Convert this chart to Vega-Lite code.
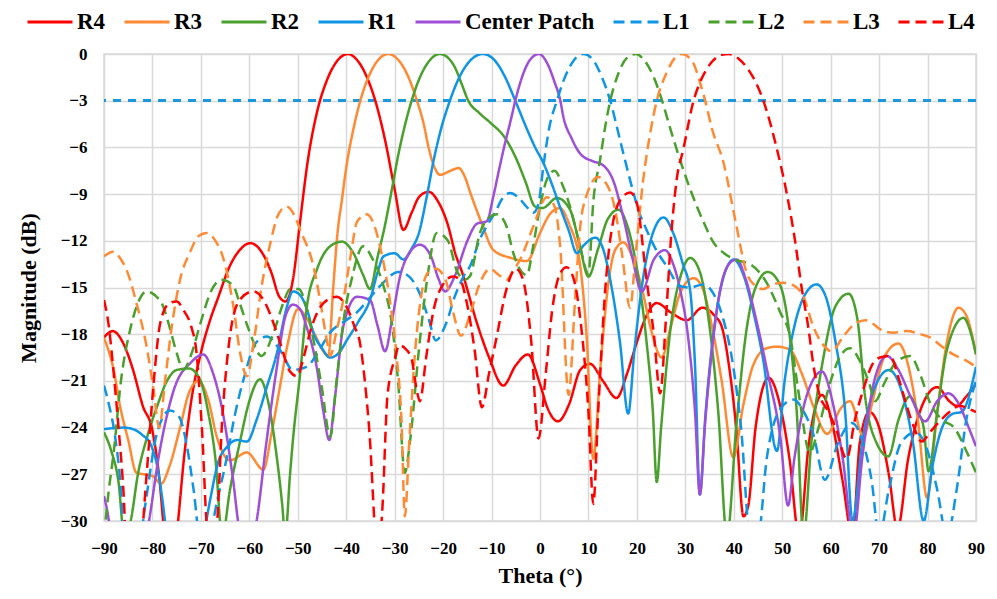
{
"$schema": "https://vega.github.io/schema/vega-lite/v6.json",
"width": 872, "height": 467,
"autosize": {"type": "none"},
"padding": {"left": 104, "top": 54, "right": 21, "bottom": 78},
"background": "white",
"config": {"view": {"stroke": "#d9d9d9", "strokeWidth": 1.5}, "font": "Liberation Serif"},
"data": {"values": [
{"s":"R4","t":-90,"m":-18.2},{"s":"R4","t":-88.2,"m":-17.8},{"s":"R4","t":-86,"m":-18.6},{"s":"R4","t":-84,"m":-20.3},{"s":"R4","t":-82,"m":-22.6},{"s":"R4","t":-80,"m":-24.2},{"s":"R4","t":-78.5,"m":-27.5},{"s":"R4","t":-77.5,"m":-31},{"s":"R4","t":-76,"m":-34},{"s":"R4","t":-74.7,"m":-30},{"s":"R4","t":-73.5,"m":-26},{"s":"R4","t":-72,"m":-22.3},{"s":"R4","t":-70,"m":-19.2},{"s":"R4","t":-68,"m":-17},{"s":"R4","t":-66.5,"m":-15.7},{"s":"R4","t":-64,"m":-13.6},{"s":"R4","t":-62,"m":-12.6},{"s":"R4","t":-59.8,"m":-12.15},{"s":"R4","t":-57.5,"m":-12.7},{"s":"R4","t":-55.5,"m":-14},{"s":"R4","t":-53.8,"m":-15.6},{"s":"R4","t":-52.5,"m":-15.9},{"s":"R4","t":-51,"m":-14.5},{"s":"R4","t":-49.5,"m":-10.7},{"s":"R4","t":-48,"m":-7.0},{"s":"R4","t":-46,"m":-3.7},{"s":"R4","t":-44,"m":-1.7},{"s":"R4","t":-42,"m":-0.5},{"s":"R4","t":-39.7,"m":0},{"s":"R4","t":-38,"m":-0.3},{"s":"R4","t":-36,"m":-1.3},{"s":"R4","t":-34,"m":-3.0},{"s":"R4","t":-32,"m":-5.5},{"s":"R4","t":-30,"m":-8.7},{"s":"R4","t":-28.2,"m":-11.3},{"s":"R4","t":-26.5,"m":-10.2},{"s":"R4","t":-25,"m":-9.2},{"s":"R4","t":-23,"m":-8.85},{"s":"R4","t":-21,"m":-9.5},{"s":"R4","t":-19,"m":-11},{"s":"R4","t":-17.5,"m":-12.8},{"s":"R4","t":-16,"m":-14.1},{"s":"R4","t":-13,"m":-17.3},{"s":"R4","t":-10.5,"m":-19.5},{"s":"R4","t":-7.6,"m":-21.3},{"s":"R4","t":-5,"m":-20},{"s":"R4","t":-2.5,"m":-19.3},{"s":"R4","t":0,"m":-21.2},{"s":"R4","t":1.5,"m":-22.7},{"s":"R4","t":3.7,"m":-23.6},{"s":"R4","t":6,"m":-22.5},{"s":"R4","t":8.3,"m":-20.3},{"s":"R4","t":10.3,"m":-19.9},{"s":"R4","t":13,"m":-21},{"s":"R4","t":15.8,"m":-22.1},{"s":"R4","t":18,"m":-20.5},{"s":"R4","t":20,"m":-18.5},{"s":"R4","t":22,"m":-16.8},{"s":"R4","t":24.1,"m":-16.0},{"s":"R4","t":27,"m":-16.6},{"s":"R4","t":30.3,"m":-17.1},{"s":"R4","t":33.5,"m":-16.3},{"s":"R4","t":36,"m":-16.8},{"s":"R4","t":37.5,"m":-17.5},{"s":"R4","t":39,"m":-20},{"s":"R4","t":40.5,"m":-24},{"s":"R4","t":42,"m":-29.7},{"s":"R4","t":43,"m":-29},{"s":"R4","t":44.5,"m":-24},{"s":"R4","t":47.2,"m":-20.8},{"s":"R4","t":49.5,"m":-22.5},{"s":"R4","t":51.5,"m":-26},{"s":"R4","t":53.5,"m":-31},{"s":"R4","t":55.5,"m":-25},{"s":"R4","t":58.2,"m":-21.9},{"s":"R4","t":60.5,"m":-24},{"s":"R4","t":62.5,"m":-27.5},{"s":"R4","t":64.5,"m":-31},{"s":"R4","t":66,"m":-25},{"s":"R4","t":68,"m":-23},{"s":"R4","t":70,"m":-24},{"s":"R4","t":72,"m":-27},{"s":"R4","t":73.8,"m":-30.5},{"s":"R4","t":76,"m":-26},{"s":"R4","t":79,"m":-22.5},{"s":"R4","t":82,"m":-21.4},{"s":"R4","t":84.5,"m":-22.3},{"s":"R4","t":86,"m":-22.6},{"s":"R4","t":88,"m":-22},{"s":"R4","t":90,"m":-21.2},
{"s":"R3","t":-90,"m":-18.25},{"s":"R3","t":-88,"m":-20.3},{"s":"R3","t":-86.7,"m":-22.6},{"s":"R3","t":-85,"m":-24.8},{"s":"R3","t":-83.3,"m":-26.9},{"s":"R3","t":-80,"m":-27.1},{"s":"R3","t":-78.2,"m":-27.6},{"s":"R3","t":-76.5,"m":-26.5},{"s":"R3","t":-74.3,"m":-24},{"s":"R3","t":-72.5,"m":-21.8},{"s":"R3","t":-70.5,"m":-21.0},{"s":"R3","t":-68.5,"m":-22.2},{"s":"R3","t":-66.7,"m":-24.6},{"s":"R3","t":-64,"m":-26.1},{"s":"R3","t":-60.5,"m":-25.6},{"s":"R3","t":-57.1,"m":-26.7},{"s":"R3","t":-55.5,"m":-24.5},{"s":"R3","t":-53.7,"m":-21.4},{"s":"R3","t":-52,"m":-18.5},{"s":"R3","t":-50,"m":-16.4},{"s":"R3","t":-48.5,"m":-16.8},{"s":"R3","t":-46.5,"m":-18},{"s":"R3","t":-44.5,"m":-19.2},{"s":"R3","t":-43.7,"m":-19.4},{"s":"R3","t":-42.7,"m":-15.1},{"s":"R3","t":-41.8,"m":-11.5},{"s":"R3","t":-40.9,"m":-9.4},{"s":"R3","t":-40,"m":-7.3},{"s":"R3","t":-38.5,"m":-4.8},{"s":"R3","t":-37,"m":-2.9},{"s":"R3","t":-35,"m":-1.2},{"s":"R3","t":-33,"m":-0.25},{"s":"R3","t":-31.3,"m":0},{"s":"R3","t":-29.5,"m":-0.3},{"s":"R3","t":-28,"m":-0.95},{"s":"R3","t":-26.5,"m":-2.0},{"s":"R3","t":-25.4,"m":-3},{"s":"R3","t":-24,"m":-4.5},{"s":"R3","t":-23,"m":-6},{"s":"R3","t":-22,"m":-7.1},{"s":"R3","t":-20.6,"m":-7.76},{"s":"R3","t":-18.5,"m":-7.5},{"s":"R3","t":-16.8,"m":-7.33},{"s":"R3","t":-15.5,"m":-7.9},{"s":"R3","t":-14.4,"m":-8.9},{"s":"R3","t":-12,"m":-10.9},{"s":"R3","t":-9.6,"m":-12.6},{"s":"R3","t":-6,"m":-13.1},{"s":"R3","t":-2.7,"m":-13.3},{"s":"R3","t":0,"m":-11.5},{"s":"R3","t":2,"m":-10.3},{"s":"R3","t":4.1,"m":-9.9},{"s":"R3","t":6,"m":-10.9},{"s":"R3","t":8.3,"m":-13.6},{"s":"R3","t":9.6,"m":-18},{"s":"R3","t":11,"m":-26},{"s":"R3","t":12.5,"m":-20},{"s":"R3","t":14,"m":-15},{"s":"R3","t":15.5,"m":-12.6},{"s":"R3","t":17.2,"m":-12.1},{"s":"R3","t":19,"m":-13},{"s":"R3","t":21,"m":-15},{"s":"R3","t":23,"m":-17.8},{"s":"R3","t":25.1,"m":-19.5},{"s":"R3","t":27,"m":-17.5},{"s":"R3","t":29,"m":-15.3},{"s":"R3","t":31.7,"m":-14.4},{"s":"R3","t":33.5,"m":-15},{"s":"R3","t":35.5,"m":-17.5},{"s":"R3","t":37.5,"m":-21},{"s":"R3","t":39.9,"m":-25.9},{"s":"R3","t":42,"m":-22.5},{"s":"R3","t":44,"m":-20},{"s":"R3","t":46.8,"m":-18.9},{"s":"R3","t":49,"m":-18.8},{"s":"R3","t":51.6,"m":-19.0},{"s":"R3","t":54,"m":-20.5},{"s":"R3","t":56.4,"m":-22.6},{"s":"R3","t":59.3,"m":-24.4},{"s":"R3","t":62,"m":-22.8},{"s":"R3","t":64,"m":-22.3},{"s":"R3","t":66.8,"m":-24.6},{"s":"R3","t":68.5,"m":-22.5},{"s":"R3","t":71,"m":-19.5},{"s":"R3","t":74,"m":-18.6},{"s":"R3","t":76,"m":-20},{"s":"R3","t":78,"m":-23.5},{"s":"R3","t":79.9,"m":-28.5},{"s":"R3","t":82,"m":-23},{"s":"R3","t":84,"m":-18.5},{"s":"R3","t":86.4,"m":-16.3},{"s":"R3","t":88,"m":-16.8},{"s":"R3","t":90,"m":-19.3},
{"s":"R2","t":-90,"m":-24.3},{"s":"R2","t":-88.5,"m":-25.5},{"s":"R2","t":-87,"m":-27.5},{"s":"R2","t":-85.8,"m":-31},{"s":"R2","t":-84.5,"m":-30},{"s":"R2","t":-83,"m":-27},{"s":"R2","t":-81,"m":-24.5},{"s":"R2","t":-79,"m":-22.6},{"s":"R2","t":-77,"m":-21},{"s":"R2","t":-75,"m":-20.3},{"s":"R2","t":-72.5,"m":-20.2},{"s":"R2","t":-70.2,"m":-20.9},{"s":"R2","t":-68.5,"m":-23},{"s":"R2","t":-67,"m":-26},{"s":"R2","t":-65.6,"m":-31},{"s":"R2","t":-64,"m":-28},{"s":"R2","t":-62,"m":-25},{"s":"R2","t":-60,"m":-22.3},{"s":"R2","t":-57.8,"m":-20.9},{"s":"R2","t":-56,"m":-22.5},{"s":"R2","t":-54.5,"m":-25.5},{"s":"R2","t":-53.2,"m":-29},{"s":"R2","t":-52.6,"m":-31},{"s":"R2","t":-51.6,"m":-27},{"s":"R2","t":-51,"m":-24.8},{"s":"R2","t":-49.5,"m":-20.5},{"s":"R2","t":-48.2,"m":-16.4},{"s":"R2","t":-46,"m":-13.8},{"s":"R2","t":-43.5,"m":-12.4},{"s":"R2","t":-40.9,"m":-12.05},{"s":"R2","t":-38.5,"m":-12.8},{"s":"R2","t":-36.5,"m":-14.2},{"s":"R2","t":-35.1,"m":-15.1},{"s":"R2","t":-33.5,"m":-13},{"s":"R2","t":-32,"m":-11},{"s":"R2","t":-31,"m":-9.4},{"s":"R2","t":-29,"m":-6.1},{"s":"R2","t":-26.5,"m":-3},{"s":"R2","t":-24.5,"m":-1.3},{"s":"R2","t":-23,"m":-0.5},{"s":"R2","t":-20.7,"m":0},{"s":"R2","t":-19,"m":-0.24},{"s":"R2","t":-17.5,"m":-0.9},{"s":"R2","t":-16.2,"m":-1.9},{"s":"R2","t":-14.8,"m":-3},{"s":"R2","t":-12.5,"m":-3.8},{"s":"R2","t":-10.3,"m":-4.4},{"s":"R2","t":-7.2,"m":-5.4},{"s":"R2","t":-4.8,"m":-6.8},{"s":"R2","t":-3,"m":-8.2},{"s":"R2","t":-1,"m":-9.8},{"s":"R2","t":0.5,"m":-9.9},{"s":"R2","t":3.5,"m":-9.25},{"s":"R2","t":6.2,"m":-10},{"s":"R2","t":8,"m":-12},{"s":"R2","t":10,"m":-14.3},{"s":"R2","t":12,"m":-12.5},{"s":"R2","t":14,"m":-10.6},{"s":"R2","t":16.2,"m":-10.0},{"s":"R2","t":18,"m":-11},{"s":"R2","t":20,"m":-13.8},{"s":"R2","t":22,"m":-18.5},{"s":"R2","t":23.3,"m":-23},{"s":"R2","t":24.1,"m":-27.5},{"s":"R2","t":25,"m":-24},{"s":"R2","t":27,"m":-17.5},{"s":"R2","t":29,"m":-14.3},{"s":"R2","t":31,"m":-13.1},{"s":"R2","t":33,"m":-14},{"s":"R2","t":35,"m":-17.5},{"s":"R2","t":36.8,"m":-23},{"s":"R2","t":38.6,"m":-31},{"s":"R2","t":40.5,"m":-24},{"s":"R2","t":42.5,"m":-18},{"s":"R2","t":44.5,"m":-15},{"s":"R2","t":47,"m":-14.0},{"s":"R2","t":49.5,"m":-14.8},{"s":"R2","t":51.5,"m":-18},{"s":"R2","t":53,"m":-23},{"s":"R2","t":54.4,"m":-31},{"s":"R2","t":56,"m":-25},{"s":"R2","t":58.5,"m":-19.5},{"s":"R2","t":61,"m":-16.2},{"s":"R2","t":63.7,"m":-15.4},{"s":"R2","t":65.5,"m":-17},{"s":"R2","t":67.1,"m":-22},{"s":"R2","t":69.5,"m":-25},{"s":"R2","t":71.9,"m":-25.85},{"s":"R2","t":74,"m":-23.5},{"s":"R2","t":76.3,"m":-22},{"s":"R2","t":78,"m":-23},{"s":"R2","t":79.2,"m":-24},{"s":"R2","t":80.2,"m":-26.8},{"s":"R2","t":82,"m":-23},{"s":"R2","t":84,"m":-19},{"s":"R2","t":87.4,"m":-16.95},{"s":"R2","t":89,"m":-18},{"s":"R2","t":90,"m":-19.3},
{"s":"R1","t":-90,"m":-24.1},{"s":"R1","t":-86,"m":-24.0},{"s":"R1","t":-84,"m":-24.1},{"s":"R1","t":-82,"m":-24.5},{"s":"R1","t":-80.5,"m":-25},{"s":"R1","t":-79,"m":-26.5},{"s":"R1","t":-78,"m":-28.5},{"s":"R1","t":-77,"m":-31},{"s":"R1","t":-75,"m":-34},{"s":"R1","t":-72,"m":-34},{"s":"R1","t":-69.5,"m":-31},{"s":"R1","t":-68,"m":-28.5},{"s":"R1","t":-66.5,"m":-26.3},{"s":"R1","t":-64.5,"m":-25.2},{"s":"R1","t":-62.5,"m":-24.8},{"s":"R1","t":-60.5,"m":-24.9},{"s":"R1","t":-58.5,"m":-23.5},{"s":"R1","t":-56.5,"m":-21.5},{"s":"R1","t":-54.3,"m":-19.2},{"s":"R1","t":-52.3,"m":-16.3},{"s":"R1","t":-51,"m":-15.25},{"s":"R1","t":-49.5,"m":-15.5},{"s":"R1","t":-48,"m":-16.5},{"s":"R1","t":-46.8,"m":-17.9},{"s":"R1","t":-45,"m":-18.9},{"s":"R1","t":-43.35,"m":-19.5},{"s":"R1","t":-41.5,"m":-19.2},{"s":"R1","t":-39.9,"m":-18.4},{"s":"R1","t":-37.5,"m":-17.2},{"s":"R1","t":-35.1,"m":-15.8},{"s":"R1","t":-33.5,"m":-14},{"s":"R1","t":-32.3,"m":-13.0},{"s":"R1","t":-30,"m":-12.8},{"s":"R1","t":-28.2,"m":-13.2},{"s":"R1","t":-26.5,"m":-12.5},{"s":"R1","t":-25,"m":-11.5},{"s":"R1","t":-23.4,"m":-9.2},{"s":"R1","t":-22,"m":-6.9},{"s":"R1","t":-20.5,"m":-4.9},{"s":"R1","t":-18.6,"m":-3},{"s":"R1","t":-16.5,"m":-1.4},{"s":"R1","t":-14,"m":-0.3},{"s":"R1","t":-11.8,"m":0},{"s":"R1","t":-9.5,"m":-0.36},{"s":"R1","t":-7.5,"m":-1.3},{"s":"R1","t":-5.1,"m":-3},{"s":"R1","t":-3,"m":-4.6},{"s":"R1","t":-1,"m":-6},{"s":"R1","t":0.7,"m":-7.0},{"s":"R1","t":2.5,"m":-8.4},{"s":"R1","t":4.1,"m":-9.8},{"s":"R1","t":6,"m":-11.4},{"s":"R1","t":7.6,"m":-12.8},{"s":"R1","t":9,"m":-12.3},{"s":"R1","t":11.4,"m":-11.8},{"s":"R1","t":13,"m":-12.5},{"s":"R1","t":14.5,"m":-14.5},{"s":"R1","t":16.5,"m":-18.5},{"s":"R1","t":18.2,"m":-23.1},{"s":"R1","t":19.5,"m":-19},{"s":"R1","t":21,"m":-15},{"s":"R1","t":23,"m":-11.8},{"s":"R1","t":25.5,"m":-10.5},{"s":"R1","t":27.5,"m":-11.5},{"s":"R1","t":29.5,"m":-13.5},{"s":"R1","t":31,"m":-15.2},{"s":"R1","t":32,"m":-20},{"s":"R1","t":33,"m":-28.3},{"s":"R1","t":34.2,"m":-23},{"s":"R1","t":36,"m":-17.5},{"s":"R1","t":38,"m":-14.2},{"s":"R1","t":40,"m":-13.2},{"s":"R1","t":42,"m":-14.2},{"s":"R1","t":44,"m":-16.5},{"s":"R1","t":46,"m":-19.5},{"s":"R1","t":48.9,"m":-25.5},{"s":"R1","t":50.5,"m":-21},{"s":"R1","t":52.5,"m":-17.5},{"s":"R1","t":55,"m":-15.3},{"s":"R1","t":57.1,"m":-14.8},{"s":"R1","t":59,"m":-15.6},{"s":"R1","t":61,"m":-18.5},{"s":"R1","t":63,"m":-23},{"s":"R1","t":64.5,"m":-30},{"s":"R1","t":66.5,"m":-25},{"s":"R1","t":69,"m":-21.5},{"s":"R1","t":72,"m":-20.3},{"s":"R1","t":74.5,"m":-21.5},{"s":"R1","t":77,"m":-25},{"s":"R1","t":79.2,"m":-30},{"s":"R1","t":81,"m":-26.5},{"s":"R1","t":83,"m":-24},{"s":"R1","t":85.3,"m":-23.1},{"s":"R1","t":87,"m":-23},{"s":"R1","t":90,"m":-20.1},
{"s":"Center Patch","t":-90,"m":-28.4},{"s":"Center Patch","t":-89,"m":-30},{"s":"Center Patch","t":-88,"m":-33},{"s":"Center Patch","t":-84,"m":-34},{"s":"Center Patch","t":-81,"m":-30.5},{"s":"Center Patch","t":-78.5,"m":-25.5},{"s":"Center Patch","t":-75.5,"m":-21.5},{"s":"Center Patch","t":-72,"m":-19.8},{"s":"Center Patch","t":-69.5,"m":-19.3},{"s":"Center Patch","t":-67.5,"m":-20.5},{"s":"Center Patch","t":-65.5,"m":-23},{"s":"Center Patch","t":-63.5,"m":-27},{"s":"Center Patch","t":-61.8,"m":-31},{"s":"Center Patch","t":-60,"m":-32},{"s":"Center Patch","t":-58.5,"m":-30},{"s":"Center Patch","t":-56.5,"m":-25},{"s":"Center Patch","t":-54.5,"m":-20.5},{"s":"Center Patch","t":-52.5,"m":-16.8},{"s":"Center Patch","t":-51,"m":-16.1},{"s":"Center Patch","t":-49.5,"m":-16.4},{"s":"Center Patch","t":-48.2,"m":-17.5},{"s":"Center Patch","t":-46.1,"m":-20.1},{"s":"Center Patch","t":-44.7,"m":-23},{"s":"Center Patch","t":-43.5,"m":-24.8},{"s":"Center Patch","t":-42.3,"m":-22},{"s":"Center Patch","t":-40.6,"m":-17.5},{"s":"Center Patch","t":-37.8,"m":-15.6},{"s":"Center Patch","t":-35.1,"m":-15.8},{"s":"Center Patch","t":-33.5,"m":-17.5},{"s":"Center Patch","t":-32,"m":-19.1},{"s":"Center Patch","t":-30.5,"m":-17},{"s":"Center Patch","t":-28.9,"m":-14.3},{"s":"Center Patch","t":-27,"m":-12.8},{"s":"Center Patch","t":-24.8,"m":-12.25},{"s":"Center Patch","t":-22.5,"m":-13},{"s":"Center Patch","t":-21,"m":-14.4},{"s":"Center Patch","t":-19.6,"m":-15.25},{"s":"Center Patch","t":-17.5,"m":-14.2},{"s":"Center Patch","t":-15,"m":-12},{"s":"Center Patch","t":-13,"m":-10.9},{"s":"Center Patch","t":-11,"m":-10.75},{"s":"Center Patch","t":-9.6,"m":-9.1},{"s":"Center Patch","t":-8.5,"m":-7.5},{"s":"Center Patch","t":-7.5,"m":-6.1},{"s":"Center Patch","t":-6,"m":-4.2},{"s":"Center Patch","t":-5.1,"m":-3},{"s":"Center Patch","t":-3.5,"m":-1.3},{"s":"Center Patch","t":-2,"m":-0.35},{"s":"Center Patch","t":-0.2,"m":0},{"s":"Center Patch","t":1.5,"m":-0.6},{"s":"Center Patch","t":3,"m":-1.8},{"s":"Center Patch","t":4.2,"m":-3},{"s":"Center Patch","t":4.8,"m":-4.0},{"s":"Center Patch","t":6.5,"m":-5.4},{"s":"Center Patch","t":8.3,"m":-6.4},{"s":"Center Patch","t":11,"m":-6.9},{"s":"Center Patch","t":12.8,"m":-7.1},{"s":"Center Patch","t":15.2,"m":-8.2},{"s":"Center Patch","t":17.2,"m":-10.5},{"s":"Center Patch","t":19,"m":-13},{"s":"Center Patch","t":21,"m":-15.25},{"s":"Center Patch","t":23.5,"m":-13.2},{"s":"Center Patch","t":25.8,"m":-12.6},{"s":"Center Patch","t":27.5,"m":-13.5},{"s":"Center Patch","t":28.9,"m":-15.1},{"s":"Center Patch","t":30.5,"m":-18},{"s":"Center Patch","t":32,"m":-23},{"s":"Center Patch","t":33,"m":-28.3},{"s":"Center Patch","t":34,"m":-24},{"s":"Center Patch","t":35.5,"m":-19},{"s":"Center Patch","t":37.2,"m":-15.15},{"s":"Center Patch","t":39,"m":-13.5},{"s":"Center Patch","t":40.6,"m":-13.2},{"s":"Center Patch","t":42.5,"m":-14.5},{"s":"Center Patch","t":44.8,"m":-17.3},{"s":"Center Patch","t":47,"m":-20.5},{"s":"Center Patch","t":49.6,"m":-24.6},{"s":"Center Patch","t":51.2,"m":-29},{"s":"Center Patch","t":52.5,"m":-26},{"s":"Center Patch","t":55,"m":-22},{"s":"Center Patch","t":58.2,"m":-20.4},{"s":"Center Patch","t":60.5,"m":-22.5},{"s":"Center Patch","t":62.5,"m":-26},{"s":"Center Patch","t":64.7,"m":-31},{"s":"Center Patch","t":66.5,"m":-26},{"s":"Center Patch","t":69,"m":-21},{"s":"Center Patch","t":71.6,"m":-19.4},{"s":"Center Patch","t":74,"m":-20.3},{"s":"Center Patch","t":76.5,"m":-22},{"s":"Center Patch","t":79.5,"m":-23.6},{"s":"Center Patch","t":82,"m":-22.3},{"s":"Center Patch","t":84.3,"m":-21.8},{"s":"Center Patch","t":86.5,"m":-22.5},{"s":"Center Patch","t":88.5,"m":-24},{"s":"Center Patch","t":90,"m":-25.2},
{"s":"L1","t":-90,"m":-21.3},{"s":"L1","t":-89,"m":-22.5},{"s":"L1","t":-87.7,"m":-24.6},{"s":"L1","t":-86.5,"m":-28},{"s":"L1","t":-85.7,"m":-32},{"s":"L1","t":-83,"m":-32},{"s":"L1","t":-81.5,"m":-29},{"s":"L1","t":-79.1,"m":-24.4},{"s":"L1","t":-76.4,"m":-22.9},{"s":"L1","t":-74.5,"m":-23.3},{"s":"L1","t":-73,"m":-25},{"s":"L1","t":-71.5,"m":-28},{"s":"L1","t":-70.2,"m":-31},{"s":"L1","t":-68.5,"m":-31},{"s":"L1","t":-66.5,"m":-28.5},{"s":"L1","t":-64.7,"m":-26},{"s":"L1","t":-63,"m":-23.2},{"s":"L1","t":-61.2,"m":-20.9},{"s":"L1","t":-58.5,"m":-18.5},{"s":"L1","t":-56.4,"m":-18.15},{"s":"L1","t":-53.7,"m":-19},{"s":"L1","t":-51,"m":-20.3},{"s":"L1","t":-48.2,"m":-20.1},{"s":"L1","t":-45.5,"m":-19},{"s":"L1","t":-43.35,"m":-17.9},{"s":"L1","t":-40.5,"m":-17.2},{"s":"L1","t":-37.8,"m":-16.6},{"s":"L1","t":-35.5,"m":-15.8},{"s":"L1","t":-33,"m":-14.9},{"s":"L1","t":-29.2,"m":-14.0},{"s":"L1","t":-27,"m":-14.3},{"s":"L1","t":-24.8,"m":-15.4},{"s":"L1","t":-23,"m":-17},{"s":"L1","t":-21.5,"m":-18.4},{"s":"L1","t":-19.5,"m":-17.4},{"s":"L1","t":-17.5,"m":-15.5},{"s":"L1","t":-15.8,"m":-14.3},{"s":"L1","t":-14.4,"m":-13.6},{"s":"L1","t":-12.4,"m":-11.9},{"s":"L1","t":-10.5,"m":-10.8},{"s":"L1","t":-9.3,"m":-10.2},{"s":"L1","t":-7.8,"m":-9.3},{"s":"L1","t":-6.2,"m":-8.93},{"s":"L1","t":-4.5,"m":-9.2},{"s":"L1","t":-2.8,"m":-9.8},{"s":"L1","t":-1.4,"m":-10.2},{"s":"L1","t":-0.3,"m":-9.6},{"s":"L1","t":0.7,"m":-7.2},{"s":"L1","t":2,"m":-4.6},{"s":"L1","t":3.5,"m":-3},{"s":"L1","t":5,"m":-1.6},{"s":"L1","t":7,"m":-0.4},{"s":"L1","t":9,"m":0},{"s":"L1","t":11,"m":-0.4},{"s":"L1","t":12.8,"m":-1.5},{"s":"L1","t":14.5,"m":-3},{"s":"L1","t":16.5,"m":-5.5},{"s":"L1","t":18.6,"m":-8.1},{"s":"L1","t":20.5,"m":-10.2},{"s":"L1","t":22,"m":-11.3},{"s":"L1","t":24,"m":-12.6},{"s":"L1","t":26.2,"m":-13.65},{"s":"L1","t":28.9,"m":-14.9},{"s":"L1","t":31,"m":-15},{"s":"L1","t":33.7,"m":-14.8},{"s":"L1","t":35.8,"m":-15.4},{"s":"L1","t":37.8,"m":-17},{"s":"L1","t":39.9,"m":-20.1},{"s":"L1","t":41.5,"m":-24},{"s":"L1","t":43.4,"m":-31},{"s":"L1","t":45,"m":-31},{"s":"L1","t":46.8,"m":-26},{"s":"L1","t":49.6,"m":-22.8},{"s":"L1","t":52.3,"m":-22.2},{"s":"L1","t":54.5,"m":-23},{"s":"L1","t":56.4,"m":-24.4},{"s":"L1","t":58.8,"m":-27.35},{"s":"L1","t":61.5,"m":-25},{"s":"L1","t":64.4,"m":-23.7},{"s":"L1","t":66.5,"m":-24.8},{"s":"L1","t":68.5,"m":-27.5},{"s":"L1","t":70,"m":-31},{"s":"L1","t":72,"m":-28},{"s":"L1","t":74.5,"m":-25},{"s":"L1","t":77.5,"m":-24.3},{"s":"L1","t":80,"m":-25.5},{"s":"L1","t":82,"m":-28},{"s":"L1","t":84,"m":-31},{"s":"L1","t":86,"m":-28},{"s":"L1","t":88,"m":-23.5},{"s":"L1","t":90,"m":-21},
{"s":"L2","t":-90,"m":-31},{"s":"L2","t":-89,"m":-28},{"s":"L2","t":-88,"m":-25.6},{"s":"L2","t":-86.5,"m":-21},{"s":"L2","t":-84.6,"m":-17.7},{"s":"L2","t":-83,"m":-16},{"s":"L2","t":-81.2,"m":-15.25},{"s":"L2","t":-79.5,"m":-15.5},{"s":"L2","t":-77.8,"m":-16.2},{"s":"L2","t":-76.5,"m":-17.5},{"s":"L2","t":-75,"m":-19.2},{"s":"L2","t":-73.6,"m":-20.3},{"s":"L2","t":-72,"m":-19.3},{"s":"L2","t":-70,"m":-17.2},{"s":"L2","t":-68,"m":-15.3},{"s":"L2","t":-65.7,"m":-14.5},{"s":"L2","t":-63.3,"m":-14.9},{"s":"L2","t":-62,"m":-16},{"s":"L2","t":-60,"m":-17.8},{"s":"L2","t":-57.5,"m":-19.4},{"s":"L2","t":-55,"m":-17.9},{"s":"L2","t":-53,"m":-16},{"s":"L2","t":-51.6,"m":-15.1},{"s":"L2","t":-49.8,"m":-15.1},{"s":"L2","t":-48.2,"m":-16.3},{"s":"L2","t":-46.5,"m":-18.8},{"s":"L2","t":-45,"m":-21.5},{"s":"L2","t":-43.3,"m":-24.6},{"s":"L2","t":-42,"m":-21},{"s":"L2","t":-40.5,"m":-17},{"s":"L2","t":-38.9,"m":-14.5},{"s":"L2","t":-36.5,"m":-12.35},{"s":"L2","t":-34.5,"m":-13.2},{"s":"L2","t":-32.5,"m":-14.7},{"s":"L2","t":-30.5,"m":-17.5},{"s":"L2","t":-29.3,"m":-21},{"s":"L2","t":-27.9,"m":-26.9},{"s":"L2","t":-26.8,"m":-24.8},{"s":"L2","t":-25,"m":-19},{"s":"L2","t":-23.4,"m":-14.7},{"s":"L2","t":-21.3,"m":-11.5},{"s":"L2","t":-19,"m":-12},{"s":"L2","t":-17.2,"m":-13.9},{"s":"L2","t":-15.5,"m":-14.5},{"s":"L2","t":-14.5,"m":-14.3},{"s":"L2","t":-12.4,"m":-11.5},{"s":"L2","t":-10.5,"m":-10.5},{"s":"L2","t":-8.9,"m":-10.3},{"s":"L2","t":-7,"m":-11},{"s":"L2","t":-5.5,"m":-12.8},{"s":"L2","t":-3.8,"m":-14},{"s":"L2","t":-2.7,"m":-14.2},{"s":"L2","t":-1.5,"m":-12.5},{"s":"L2","t":0,"m":-9.8},{"s":"L2","t":1.5,"m":-8.0},{"s":"L2","t":3,"m":-7.5},{"s":"L2","t":4.5,"m":-8.3},{"s":"L2","t":6,"m":-9.6},{"s":"L2","t":8,"m":-12},{"s":"L2","t":10,"m":-14.1},{"s":"L2","t":11,"m":-9.5},{"s":"L2","t":12.4,"m":-6.8},{"s":"L2","t":13.5,"m":-4.6},{"s":"L2","t":14.5,"m":-3},{"s":"L2","t":16,"m":-1.4},{"s":"L2","t":17.8,"m":-0.3},{"s":"L2","t":19.8,"m":0},{"s":"L2","t":21.5,"m":-0.4},{"s":"L2","t":23.5,"m":-1.5},{"s":"L2","t":25,"m":-2.8},{"s":"L2","t":27,"m":-4.9},{"s":"L2","t":28.9,"m":-6.8},{"s":"L2","t":30.9,"m":-8.6},{"s":"L2","t":33.7,"m":-10.75},{"s":"L2","t":35.8,"m":-12.1},{"s":"L2","t":38,"m":-12.8},{"s":"L2","t":40.2,"m":-13.2},{"s":"L2","t":43.4,"m":-13.5},{"s":"L2","t":46.8,"m":-14.7},{"s":"L2","t":49.6,"m":-16.6},{"s":"L2","t":51.6,"m":-18.1},{"s":"L2","t":53.5,"m":-22},{"s":"L2","t":55.7,"m":-25.6},{"s":"L2","t":57.5,"m":-24},{"s":"L2","t":60,"m":-21},{"s":"L2","t":62,"m":-19.4},{"s":"L2","t":64,"m":-18.9},{"s":"L2","t":66,"m":-19.7},{"s":"L2","t":68,"m":-21.2},{"s":"L2","t":69.2,"m":-22.3},{"s":"L2","t":71,"m":-21.2},{"s":"L2","t":73.5,"m":-19.8},{"s":"L2","t":76.4,"m":-19.4},{"s":"L2","t":78.5,"m":-20.6},{"s":"L2","t":80.5,"m":-22.4},{"s":"L2","t":83,"m":-23.5},{"s":"L2","t":85.5,"m":-24},{"s":"L2","t":88,"m":-25.5},{"s":"L2","t":90,"m":-26.9},
{"s":"L3","t":-90,"m":-13.0},{"s":"L3","t":-88.1,"m":-12.7},{"s":"L3","t":-86.5,"m":-13.2},{"s":"L3","t":-85.3,"m":-13.9},{"s":"L3","t":-83.3,"m":-16},{"s":"L3","t":-81.2,"m":-18.8},{"s":"L3","t":-79.8,"m":-21.5},{"s":"L3","t":-78.6,"m":-24},{"s":"L3","t":-77.4,"m":-21},{"s":"L3","t":-76,"m":-17.5},{"s":"L3","t":-74.3,"m":-14.5},{"s":"L3","t":-72.2,"m":-12.7},{"s":"L3","t":-70.5,"m":-11.7},{"s":"L3","t":-68.8,"m":-11.5},{"s":"L3","t":-67,"m":-12},{"s":"L3","t":-65.5,"m":-13},{"s":"L3","t":-63.3,"m":-16.2},{"s":"L3","t":-61.9,"m":-19.2},{"s":"L3","t":-60.5,"m":-20.7},{"s":"L3","t":-59,"m":-18.3},{"s":"L3","t":-57.5,"m":-15},{"s":"L3","t":-55.7,"m":-12.2},{"s":"L3","t":-54,"m":-10.3},{"s":"L3","t":-52.3,"m":-9.8},{"s":"L3","t":-50.5,"m":-10.5},{"s":"L3","t":-49.5,"m":-11.3},{"s":"L3","t":-46.8,"m":-13.6},{"s":"L3","t":-45.4,"m":-15.8},{"s":"L3","t":-44,"m":-18.4},{"s":"L3","t":-43.3,"m":-19.4},{"s":"L3","t":-42,"m":-17.8},{"s":"L3","t":-40.6,"m":-15.8},{"s":"L3","t":-39,"m":-12.8},{"s":"L3","t":-37.8,"m":-10.8},{"s":"L3","t":-35.8,"m":-10.3},{"s":"L3","t":-34,"m":-11.2},{"s":"L3","t":-33,"m":-12.4},{"s":"L3","t":-31,"m":-15.8},{"s":"L3","t":-29.6,"m":-19.4},{"s":"L3","t":-28.6,"m":-23.5},{"s":"L3","t":-27.9,"m":-29.7},{"s":"L3","t":-27,"m":-25},{"s":"L3","t":-26,"m":-20},{"s":"L3","t":-24.5,"m":-15.5},{"s":"L3","t":-23,"m":-14},{"s":"L3","t":-21.5,"m":-13.8},{"s":"L3","t":-19.5,"m":-14.5},{"s":"L3","t":-18,"m":-16.5},{"s":"L3","t":-16.3,"m":-18.1},{"s":"L3","t":-14.5,"m":-16.8},{"s":"L3","t":-12.5,"m":-14.8},{"s":"L3","t":-10.3,"m":-13.8},{"s":"L3","t":-8.5,"m":-14.2},{"s":"L3","t":-6.9,"m":-14.5},{"s":"L3","t":-5.5,"m":-13.9},{"s":"L3","t":-4.1,"m":-13.2},{"s":"L3","t":-1.4,"m":-11.1},{"s":"L3","t":1.4,"m":-9.2},{"s":"L3","t":3,"m":-9.8},{"s":"L3","t":4.2,"m":-12.5},{"s":"L3","t":5.9,"m":-21.9},{"s":"L3","t":7.2,"m":-16},{"s":"L3","t":8.3,"m":-11.1},{"s":"L3","t":9.6,"m":-9.1},{"s":"L3","t":12,"m":-7.9},{"s":"L3","t":14,"m":-8.5},{"s":"L3","t":15.5,"m":-10},{"s":"L3","t":17,"m":-13},{"s":"L3","t":18.6,"m":-16.3},{"s":"L3","t":19.7,"m":-13},{"s":"L3","t":21.3,"m":-8.1},{"s":"L3","t":22.8,"m":-5},{"s":"L3","t":24.1,"m":-3},{"s":"L3","t":26,"m":-1.3},{"s":"L3","t":28,"m":-0.2},{"s":"L3","t":29.3,"m":0},{"s":"L3","t":31.5,"m":-0.5},{"s":"L3","t":33,"m":-1.8},{"s":"L3","t":34.1,"m":-3},{"s":"L3","t":35.5,"m":-4.8},{"s":"L3","t":37.9,"m":-7},{"s":"L3","t":40.3,"m":-10.65},{"s":"L3","t":42.7,"m":-14.1},{"s":"L3","t":44.5,"m":-14.9},{"s":"L3","t":46.1,"m":-15.1},{"s":"L3","t":48,"m":-14.8},{"s":"L3","t":50.2,"m":-14.7},{"s":"L3","t":52.5,"m":-14.9},{"s":"L3","t":54.4,"m":-15.6},{"s":"L3","t":56.4,"m":-17.5},{"s":"L3","t":58.5,"m":-18.7},{"s":"L3","t":60.2,"m":-19.1},{"s":"L3","t":62.5,"m":-18.2},{"s":"L3","t":64.7,"m":-17.4},{"s":"L3","t":67.2,"m":-17.1},{"s":"L3","t":70.9,"m":-17.8},{"s":"L3","t":73,"m":-17.9},{"s":"L3","t":75.7,"m":-17.8},{"s":"L3","t":78.5,"m":-18.0},{"s":"L3","t":80.5,"m":-18.2},{"s":"L3","t":83,"m":-18.8},{"s":"L3","t":85.3,"m":-19.3},{"s":"L3","t":88,"m":-19.7},{"s":"L3","t":90,"m":-20.1},
{"s":"L4","t":-90,"m":-15.8},{"s":"L4","t":-89,"m":-17.5},{"s":"L4","t":-88,"m":-20.5},{"s":"L4","t":-87,"m":-24},{"s":"L4","t":-86,"m":-28},{"s":"L4","t":-85.3,"m":-32},{"s":"L4","t":-83,"m":-33},{"s":"L4","t":-81.2,"m":-27},{"s":"L4","t":-79.8,"m":-21.3},{"s":"L4","t":-78.4,"m":-17.3},{"s":"L4","t":-76.5,"m":-16},{"s":"L4","t":-75,"m":-15.9},{"s":"L4","t":-73.5,"m":-16.5},{"s":"L4","t":-72,"m":-17.5},{"s":"L4","t":-70.9,"m":-19.2},{"s":"L4","t":-69.8,"m":-24},{"s":"L4","t":-68.5,"m":-31},{"s":"L4","t":-67,"m":-31},{"s":"L4","t":-65.5,"m":-23},{"s":"L4","t":-64,"m":-18.1},{"s":"L4","t":-62,"m":-15.8},{"s":"L4","t":-59.2,"m":-15.25},{"s":"L4","t":-56.4,"m":-16.2},{"s":"L4","t":-55,"m":-17.3},{"s":"L4","t":-53.5,"m":-18.7},{"s":"L4","t":-51.6,"m":-20.4},{"s":"L4","t":-50.2,"m":-20.7},{"s":"L4","t":-48.8,"m":-19.5},{"s":"L4","t":-47.5,"m":-17.9},{"s":"L4","t":-44.7,"m":-16},{"s":"L4","t":-42,"m":-15.6},{"s":"L4","t":-40,"m":-16.2},{"s":"L4","t":-38.3,"m":-17.5},{"s":"L4","t":-37.2,"m":-18.5},{"s":"L4","t":-36,"m":-21.5},{"s":"L4","t":-35.1,"m":-24.8},{"s":"L4","t":-34.2,"m":-30},{"s":"L4","t":-33.6,"m":-33},{"s":"L4","t":-32.5,"m":-29},{"s":"L4","t":-31.5,"m":-22},{"s":"L4","t":-30,"m":-19.6},{"s":"L4","t":-29,"m":-18.7},{"s":"L4","t":-27.9,"m":-18.9},{"s":"L4","t":-26.5,"m":-19.6},{"s":"L4","t":-25.5,"m":-21.5},{"s":"L4","t":-24.8,"m":-22.3},{"s":"L4","t":-23.5,"m":-19.5},{"s":"L4","t":-22,"m":-16.5},{"s":"L4","t":-20,"m":-14.8},{"s":"L4","t":-18,"m":-14.3},{"s":"L4","t":-16.5,"m":-14.5},{"s":"L4","t":-15.1,"m":-16},{"s":"L4","t":-13.5,"m":-19},{"s":"L4","t":-12,"m":-22.7},{"s":"L4","t":-10.5,"m":-20.5},{"s":"L4","t":-8.9,"m":-18.1},{"s":"L4","t":-7,"m":-15.2},{"s":"L4","t":-5,"m":-13.8},{"s":"L4","t":-3.5,"m":-14.5},{"s":"L4","t":-1.8,"m":-18.5},{"s":"L4","t":-0.3,"m":-24.7},{"s":"L4","t":1.2,"m":-20.5},{"s":"L4","t":2.5,"m":-16.5},{"s":"L4","t":4,"m":-14.2},{"s":"L4","t":5.5,"m":-13.7},{"s":"L4","t":7,"m":-14.5},{"s":"L4","t":8.5,"m":-17.5},{"s":"L4","t":10,"m":-23},{"s":"L4","t":11,"m":-28.9},{"s":"L4","t":12,"m":-23},{"s":"L4","t":13.5,"m":-15},{"s":"L4","t":15.2,"m":-10.6},{"s":"L4","t":17,"m":-9.2},{"s":"L4","t":18.6,"m":-8.9},{"s":"L4","t":20,"m":-9.6},{"s":"L4","t":22,"m":-14.5},{"s":"L4","t":23.5,"m":-18},{"s":"L4","t":24.8,"m":-21.8},{"s":"L4","t":26,"m":-17},{"s":"L4","t":27,"m":-12},{"s":"L4","t":28.2,"m":-8.1},{"s":"L4","t":29.6,"m":-6.1},{"s":"L4","t":31.7,"m":-3},{"s":"L4","t":33.5,"m":-1.5},{"s":"L4","t":35.5,"m":-0.5},{"s":"L4","t":37.5,"m":-0.05},{"s":"L4","t":39,"m":0},{"s":"L4","t":41,"m":-0.3},{"s":"L4","t":43,"m":-1.0},{"s":"L4","t":44.5,"m":-1.8},{"s":"L4","t":46.1,"m":-3},{"s":"L4","t":48.9,"m":-6.1},{"s":"L4","t":50.9,"m":-8.9},{"s":"L4","t":52.6,"m":-11.9},{"s":"L4","t":54,"m":-15},{"s":"L4","t":55.4,"m":-17.6},{"s":"L4","t":56.4,"m":-19.9},{"s":"L4","t":57.8,"m":-22},{"s":"L4","t":59.2,"m":-22.8},{"s":"L4","t":61,"m":-24},{"s":"L4","t":63.3,"m":-26},{"s":"L4","t":65,"m":-23.5},{"s":"L4","t":66.8,"m":-21.5},{"s":"L4","t":68.5,"m":-20},{"s":"L4","t":70.2,"m":-19.5},{"s":"L4","t":72.3,"m":-19.4},{"s":"L4","t":74,"m":-20.8},{"s":"L4","t":75.7,"m":-22.6},{"s":"L4","t":77.1,"m":-23.9},{"s":"L4","t":78.8,"m":-24.9},{"s":"L4","t":80.5,"m":-24.3},{"s":"L4","t":82.5,"m":-23.6},{"s":"L4","t":84.5,"m":-23},{"s":"L4","t":86.7,"m":-22.6},{"s":"L4","t":88.5,"m":-22.8},{"s":"L4","t":90,"m":-23}
]},
"layer": [
{"mark": {"type": "rule", "color": "#1e96dc", "strokeWidth": 2, "strokeDash": [8, 7]},
 "encoding": {"y": {"datum": -3, "type": "quantitative"}}},
{"mark": {"type": "line", "interpolate": "monotone", "clip": true, "strokeWidth": 2.5},
 "encoding": {
  "x": {"field": "t", "type": "quantitative", "scale": {"domain": [-90, 90], "nice": false},
   "axis": {"title": "Theta (°)", "values": [-90,-80,-70,-60,-50,-40,-30,-20,-10,0,10,20,30,40,50,60,70,80,90], "grid": true, "gridColor": "#d9d9d9", "gridWidth": 1.5, "domain": false, "ticks": false, "labelFont": "Liberation Serif", "labelFontWeight": "bold", "labelFontSize": 17, "labelColor": "black", "labelPadding": 19, "labelFlush": false, "titleFont": "Liberation Serif", "titleFontWeight": "bold", "titleFontSize": 22, "titleColor": "black", "titlePadding": 9}},
  "y": {"field": "m", "type": "quantitative", "scale": {"domain": [-30, 0], "nice": false, "zero": false},
   "axis": {"title": "Magnitude (dB)", "values": [0,-3,-6,-9,-12,-15,-18,-21,-24,-27,-30], "grid": true, "gridColor": "#d9d9d9", "gridWidth": 1.5, "domain": false, "ticks": false, "labelFont": "Liberation Serif", "labelFontWeight": "bold", "labelFontSize": 17, "labelColor": "black", "labelPadding": 17, "labelFlush": false, "titleFont": "Liberation Serif", "titleFontWeight": "bold", "titleFontSize": 22, "titleColor": "black", "titlePadding": 20}},
  "color": {"field": "s", "type": "nominal",
   "scale": {"domain": ["R4","R3","R2","R1","Center Patch","L1","L2","L3","L4"], "range": ["#ff0000","#ff8a33","#4aa02c","#0f94e6","#9e4fd8","#0f94e6","#4aa02c","#ff8a33","#ff0000"]},
   "legend": {"orient": "none", "legendX": -78, "legendY": -56, "direction": "horizontal", "columns": 9, "title": null, "symbolType": "stroke", "symbolSize": 2025, "symbolStrokeWidth": 3, "labelFont": "Liberation Serif", "labelFontWeight": "bold", "labelFontSize": 23, "labelColor": "black", "labelOffset": 3, "columnPadding": 12, "labelLimit": 300}},
  "strokeDash": {"field": "s", "type": "nominal",
   "scale": {"domain": ["R4","R3","R2","R1","Center Patch","L1","L2","L3","L4"], "range": [[1,0],[1,0],[1,0],[1,0],[1,0],[11,6],[11,6],[11,6],[11,6]]},
   "legend": {"orient": "none", "legendX": -78, "legendY": -56, "direction": "horizontal", "columns": 9, "title": null, "symbolType": "stroke", "symbolSize": 2025, "symbolStrokeWidth": 3, "labelFont": "Liberation Serif", "labelFontWeight": "bold", "labelFontSize": 23, "labelColor": "black", "labelOffset": 3, "columnPadding": 12, "labelLimit": 300}}
 }}
]
}
